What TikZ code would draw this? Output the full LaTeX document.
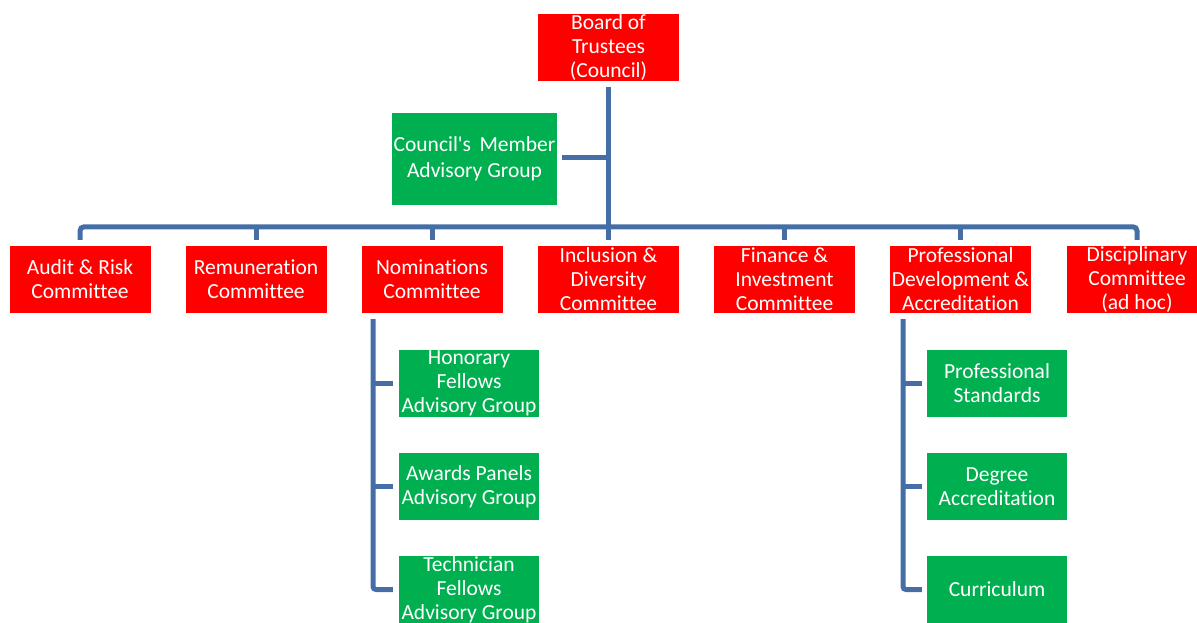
\documentclass[tikz,border=0pt]{standalone}
\usepackage{fontspec}
\setmainfont[Ligatures={NoCommon}]{Carlito}
\definecolor{bred}{RGB}{255,0,0}
\definecolor{bgreen}{RGB}{0,176,80}
\definecolor{lblue}{RGB}{68,110,165}
\begin{document}
\begin{tikzpicture}[x=1pt,y=-1pt,
  box/.style={minimum width=141pt,minimum height=67pt,inner sep=0pt,text=white,align=center,
    font=\fontsize{21.5}{24}\selectfont},
  redbox/.style={box,fill=bred},
  greenbox/.style={box,fill=bgreen,minimum width=140pt},
  conn/.style={draw=lblue,line width=5pt}]
\useasboundingbox (0,0) rectangle (1197,622);
\clip (0,0) rectangle (1197,622);
\node[redbox] (board) at (608.5,47.5) {Board of\\Trustees\\(Council)};
\node[greenbox,minimum width=165pt,minimum height=92pt,font=\fontsize{21.5}{26}\selectfont] (cmag) at (474.5,159) {Council\textquotesingle s\, Member\\Advisory Group};
\node[redbox] (audit) at (80,279.5) {Audit \& Risk\\Committee};
\node[redbox] (remun) at (256,279.5) {Remuneration\\Committee};
\node[redbox] (nom) at (432,279.5) {Nominations\\Committee};
\node[redbox] (incl) at (608.5,279.5) {Inclusion \&\\Diversity\\Committee};
\node[redbox] (fin) at (784.5,279.5) {Finance \&\\Investment\\Committee};
\node[redbox] (pd) at (960.5,279.5) {Professional\\Development \&\\Accreditation};
\node[redbox] (disc) at (1137,279.5) {Disciplinary\\Committee\\(ad hoc)};
\node[greenbox] (hon) at (469,383.5) {Honorary\\Fellows\\Advisory Group};
\node[greenbox] (awd) at (469,486.5) {Awards Panels\\Advisory Group};
\node[greenbox] (tech) at (469,589.5) {Technician\\Fellows\\Advisory Group};
\node[greenbox] (ps) at (997,383.5) {Professional\\Standards};
\node[greenbox] (deg) at (997,486.5) {Degree\\Accreditation};
\node[greenbox] (cur) at (997,589.5) {Curriculum};
% trunk
\draw[conn,shorten <=6pt,shorten >=6pt] (board) -- (incl);
\draw[conn] ([xshift=5pt,yshift=2pt]cmag.east) -- ([yshift=2pt]cmag.east -| board.south);
% bar
\draw[conn,rounded corners=4pt] ([yshift=6pt]audit.north) |- ([yshift=19pt]disc.north) -- ([yshift=6pt]disc.north);
\foreach \n in {remun,nom,fin,pd}
  \draw[conn] ([yshift=6pt]\n.north) -- ([yshift=19pt]\n.north);
% nominations branch
\coordinate (nl) at ([xshift=-59pt,yshift=-6pt]nom.south);
\draw[conn,rounded corners=3pt] (nl) |- ([xshift=-6pt]tech.west);
\draw[conn] ([xshift=-6pt]hon.west) -- (hon.west -| nl);
\draw[conn] ([xshift=-6pt]awd.west) -- (awd.west -| nl);
% PD branch
\coordinate (pl) at ([xshift=-57.5pt,yshift=-6pt]pd.south);
\draw[conn,rounded corners=3pt] (pl) |- ([xshift=-5pt]cur.west);
\draw[conn] ([xshift=-5pt]ps.west) -- (ps.west -| pl);
\draw[conn] ([xshift=-5pt]deg.west) -- (deg.west -| pl);
\end{tikzpicture}
\end{document}
